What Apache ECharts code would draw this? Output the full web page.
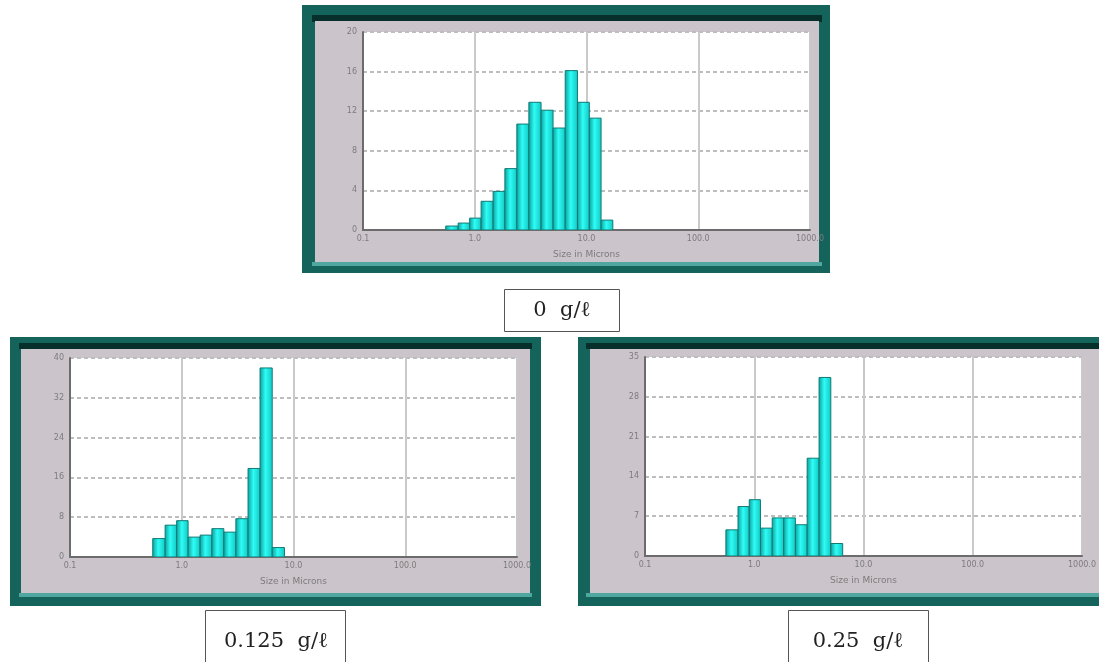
<!DOCTYPE html>
<html>
<head>
<meta charset="utf-8">
<script src="https://cdn.jsdelivr.net/npm/echarts@6/dist/echarts.min.js"></script>
<style>
html,body{margin:0;padding:0;background:#ffffff;}
#chart{width:1099px;height:662px;}
</style>
</head>
<body>
<div id="chart"></div>
<script>
// ---- data ----
const xTickLabels = ['0.1', '1.0', '10.0', '100.0', '1000.0'];
const xTitle = 'Size in Microns';
// histogram bin edges (microns), shared by the three samples
const binEdges = [0.55, 0.71, 0.90, 1.14, 1.46, 1.86, 2.38, 3.05, 3.92, 5.02, 6.45, 8.3, 10.6, 13.5, 17.2];
// volume % per bin, starting at the first edge
const values0 = [0.4, 0.7, 1.2, 2.9, 3.9, 6.2, 10.7, 12.9, 12.1, 10.3, 16.1, 12.9, 11.3, 1.0];
const values125 = [3.7, 6.4, 7.3, 4.0, 4.4, 5.7, 5.0, 7.7, 17.8, 38.0, 1.9];
const values25 = [4.6, 8.7, 9.9, 4.9, 6.7, 6.7, 5.5, 17.2, 31.4, 2.2];
const yTicks0 = ['0', '4', '8', '12', '16', '20'];
const yTicks125 = ['0', '8', '16', '24', '32', '40'];
const yTicks25 = ['0', '7', '14', '21', '28', '35'];
const captions = ['0  g/\u2113', '0.125  g/\u2113', '0.25  g/\u2113'];

// ---- chart ----
const chart = echarts.init(document.getElementById('chart'), null, {renderer: 'canvas'});

function binData(vals) {
  return vals.map((v, i) => [binEdges[i], binEdges[i + 1], v]);
}

const barFill = new echarts.graphic.LinearGradient(0, 0, 1, 0, [
  {offset: 0, color: '#0a9d99'},
  {offset: 0.45, color: '#2ffcf6'},
  {offset: 1, color: '#11c6c1'}
]);

function renderBin(params, api) {
  const a = api.coord([api.value(0), 0]);
  const b = api.coord([api.value(1), api.value(2)]);
  return {
    type: 'rect',
    shape: {x: a[0], y: b[1], width: b[0] - a[0], height: a[1] - b[1]},
    style: {fill: barFill, stroke: '#0f7a74', lineWidth: 1}
  };
}

const grids = [
  {left: 363, top: 32, width: 447, height: 198},
  {left: 70, top: 358, width: 447, height: 199},
  {left: 645, top: 357, width: 447, height: 199}
];
const yTickSets = [yTicks0, yTicks125, yTicks25];
const valueSets = [values0, values125, values25];

const labelFont = {fontSize: 8, color: '#7c7c7c', fontFamily: 'DejaVu Sans'};

const option = {
  animation: false,
  backgroundColor: '#ffffff',
  grid: grids.map(g => Object.assign({show: true, backgroundColor: '#ffffff', borderWidth: 0}, g)),
  xAxis: grids.map((g, i) => ({
    type: 'log', logBase: 10, gridIndex: i, min: 0.1, max: 1000,
    name: xTitle, nameLocation: 'middle', nameGap: 20,
    nameTextStyle: {fontSize: 9, color: '#7c7c7c', fontFamily: 'DejaVu Sans'},
    axisLine: {show: true, lineStyle: {color: '#6c6c6c', width: 2}},
    axisTick: {show: false},
    axisLabel: Object.assign({
      margin: 5,
      formatter: v => xTickLabels[Math.round(Math.log10(v)) + 1]
    }, labelFont),
    splitLine: {show: true, lineStyle: {color: '#c9c9c9', width: 2, type: 'solid'}},
    minorSplitLine: {show: false}
  })),
  yAxis: grids.map((g, i) => {
    const ticks = yTickSets[i];
    const step = Number(ticks[1]);
    return {
      type: 'value', gridIndex: i, min: 0, max: Number(ticks[ticks.length - 1]), interval: step,
      axisLine: {show: true, lineStyle: {color: '#6c6c6c', width: 2}},
      axisTick: {show: false},
      axisLabel: Object.assign({margin: 6, formatter: v => ticks[Math.round(v / step)]}, labelFont),
      splitLine: {show: true, lineStyle: {color: '#bdbdbd', width: 2, type: [4, 3]}}
    };
  }),
  series: valueSets.map((vals, i) => ({
    type: 'custom', xAxisIndex: i, yAxisIndex: i,
    renderItem: renderBin, clip: true,
    encode: {x: [0, 1], y: 2},
    data: binData(vals),
    z: 3
  })),
  graphic: [
    // top panel frame
    {type: 'rect', z: -10, shape: {x: 302, y: 5, width: 528, height: 268}, style: {fill: '#15645c'}},
    {type: 'rect', z: -9, shape: {x: 312, y: 15, width: 510, height: 7}, style: {fill: '#062f2c'}},
    {type: 'rect', z: -9, shape: {x: 312, y: 262, width: 510, height: 4}, style: {fill: '#4fa7a0'}},
    {type: 'rect', z: -8, shape: {x: 315, y: 21, width: 504, height: 241}, style: {fill: '#cbc4cb'}},
    // lower left frame
    {type: 'rect', z: -10, shape: {x: 10, y: 337, width: 531, height: 269}, style: {fill: '#15645c'}},
    {type: 'rect', z: -9, shape: {x: 19, y: 343, width: 513, height: 6}, style: {fill: '#062f2c'}},
    {type: 'rect', z: -9, shape: {x: 19, y: 593, width: 513, height: 4}, style: {fill: '#4fa7a0'}},
    {type: 'rect', z: -8, shape: {x: 21, y: 349, width: 509, height: 244}, style: {fill: '#cbc4cb'}},
    // lower right frame
    {type: 'rect', z: -10, shape: {x: 578, y: 337, width: 530, height: 269}, style: {fill: '#15645c'}},
    {type: 'rect', z: -9, shape: {x: 586, y: 343, width: 520, height: 6}, style: {fill: '#062f2c'}},
    {type: 'rect', z: -9, shape: {x: 586, y: 593, width: 520, height: 4}, style: {fill: '#4fa7a0'}},
    {type: 'rect', z: -8, shape: {x: 590, y: 349, width: 520, height: 244}, style: {fill: '#cbc4cb'}},
    // caption boxes
    {type: 'rect', shape: {x: 504.5, y: 289.5, width: 115, height: 42}, style: {fill: '#fff', stroke: '#555', lineWidth: 1}},
    {type: 'text', x: 562, y: 311, style: {text: captions[0], font: '21px "DejaVu Serif"', fill: '#222', align: 'center', verticalAlign: 'middle'}},
    {type: 'rect', shape: {x: 205.5, y: 610.5, width: 140, height: 60}, style: {fill: '#fff', stroke: '#555', lineWidth: 1}},
    {type: 'text', x: 276, y: 642, style: {text: captions[1], font: '21px "DejaVu Serif"', fill: '#222', align: 'center', verticalAlign: 'middle'}},
    {type: 'rect', shape: {x: 788.5, y: 610.5, width: 140, height: 60}, style: {fill: '#fff', stroke: '#555', lineWidth: 1}},
    {type: 'text', x: 858, y: 642, style: {text: captions[2], font: '21px "DejaVu Serif"', fill: '#222', align: 'center', verticalAlign: 'middle'}}
  ]
};
chart.setOption(option);
</script>
</body>
</html>
